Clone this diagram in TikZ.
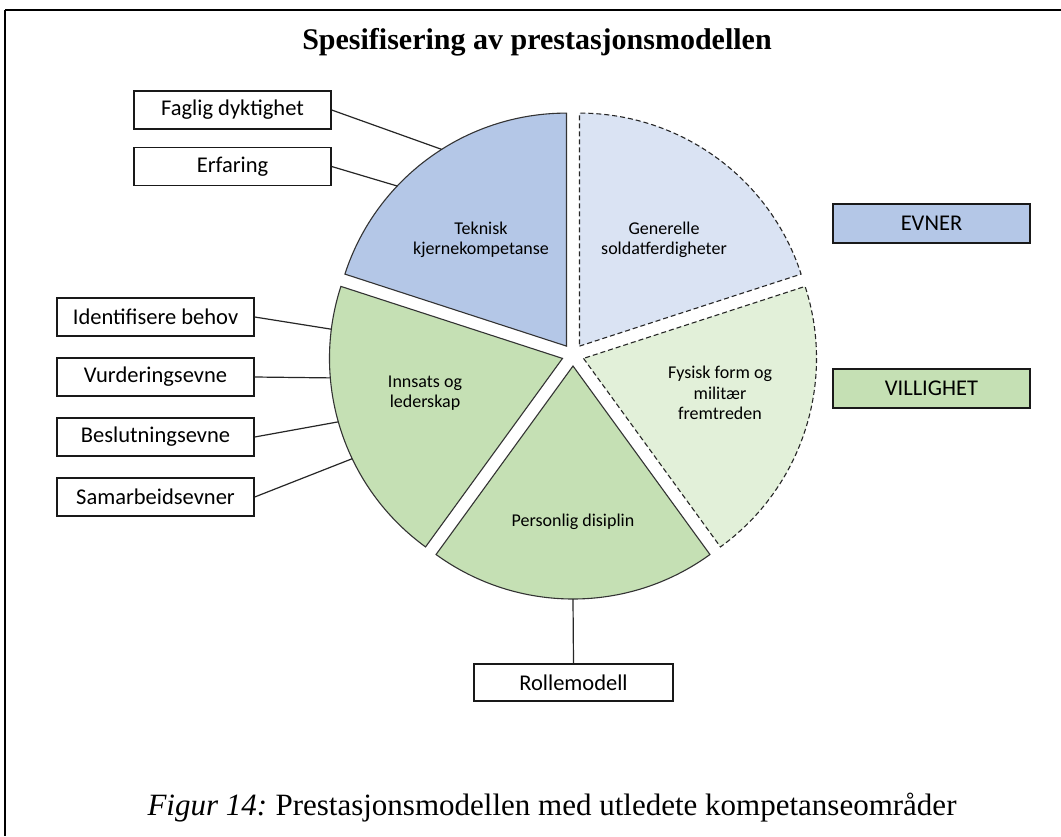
\documentclass[tikz,border=0pt]{standalone}
\usepackage{fontspec}
\setmainfont{Liberation Serif}
\newfontfamily\calib{Carlito}
\begin{document}
\begin{tikzpicture}[x=1pt,y=1pt,
  slicesolid/.style={draw=black!80,line width=1.1pt},
  slicedash/.style={draw=black!85,line width=1.1pt,dash pattern=on 5pt off 3pt},
  lbox/.style={draw=black!90,line width=1.4pt,fill=white,minimum width=197pt,minimum height=38pt,inner sep=0pt,font=\calib\fontsize{22.5}{26}\selectfont},
  slab/.style={align=center,font=\calib\fontsize{18}{20.5}\selectfont,inner sep=0pt},
  conn/.style={draw=black!85,line width=1.2pt}]
\definecolor{tekblue}{HTML}{B4C7E7}
\definecolor{genblue}{HTML}{DAE3F3}
\definecolor{grn}{HTML}{C5E0B4}
\definecolor{lgrn}{HTML}{E2F0D9}
\useasboundingbox (0,0) rectangle (1061,-836);
\fill[white] (0,0) rectangle (1061,-836);
% frame
\draw[line width=2.4pt] (5,-10) -- (1061,-10);
\draw[line width=2pt] (5,-10) -- (5,-836);
% title
\node (title) at (537,-42) {\fontsize{30}{34}\selectfont\bfseries Spesifisering av prestasjonsmodellen};
% slices
\path[slicesolid,fill=tekblue] (566.5,-346.1) -- ++(90:233) arc[start angle=90,end angle=162,radius=233] -- cycle;
\path[slicedash,fill=genblue] (579.5,-346.1) -- ++(18:233) arc[start angle=18,end angle=90,radius=233] -- cycle;
\path[slicedash,fill=lgrn] (583.5,-358.4) -- ++(-54:233) arc[start angle=-54,end angle=18,radius=233] -- cycle;
\path[slicesolid,fill=grn] (573,-366) -- ++(234:233) arc[start angle=234,end angle=306,radius=233] -- cycle;
\path[slicesolid,fill=grn] (562.5,-358.4) -- ++(162:233) arc[start angle=162,end angle=234,radius=233] -- cycle;
% slice labels
\node[slab] (tek) at (481,-240) {Teknisk\\kjernekompetanse};
\node[slab] (gen) at (664,-240) {Generelle\\soldatferdigheter};
\node[slab] (fys) at (720,-393) {Fysisk form og\\militær\\fremtreden};
\node[slab] (per) at (573,-522) {Personlig disiplin};
\node[slab] (inn) at (425,-393) {Innsats og\\lederskap};
% arc points
\coordinate (aF) at ([shift={(122.4:233)}]566.5,-346.1);
\coordinate (aE) at ([shift={(136.6:233)}]566.5,-346.1);
\coordinate (aI) at ([shift={(172.8:233)}]562.5,-358.4);
\coordinate (aV) at ([shift={(184.8:233)}]562.5,-358.4);
\coordinate (aB) at ([shift={(195.8:233)}]562.5,-358.4);
\coordinate (aS) at ([shift={(205.5:233)}]562.5,-358.4);
\coordinate (aR) at (573,-599);
% boxes
\node[lbox] (fag) at (232.5,-110) {Faglig dyktighet};
\node[lbox] (erf) at (232.5,-166.5) {Erfaring};
\node[lbox] (ide) at (155.5,-317) {Identifisere behov};
\node[lbox] (vur) at (155.5,-377) {Vurderingsevne};
\node[lbox] (bes) at (155.5,-437) {Beslutningsevne};
\node[lbox] (sam) at (155.5,-497) {Samarbeidsevner};
\node[lbox,minimum width=199pt,minimum height=37pt] (rol) at (573.5,-682.5) {Rollemodell};
\node[lbox,fill=tekblue,minimum height=39pt] (evn) at (931.5,-223.5) {EVNER};
\node[lbox,fill=grn,minimum height=39pt] (vil) at (931.5,-388.5) {VILLIGHET};
% connectors
\draw[conn] (fag.east) -- (aF);
\draw[conn] (erf.east) -- (aE);
\draw[conn] (ide.east) -- (aI);
\draw[conn] (vur.east) -- (aV);
\draw[conn] (bes.east) -- (aB);
\draw[conn] (sam.east) -- (aS);
\draw[conn] (aR) -- (rol.north);
% caption
\node (cap) at (552,-808) {\fontsize{31}{35}\selectfont\textit{Figur 14:}\hspace{-2pt} Prestasjonsmodellen med utledete kompetanseområder};
\end{tikzpicture}
\end{document}
